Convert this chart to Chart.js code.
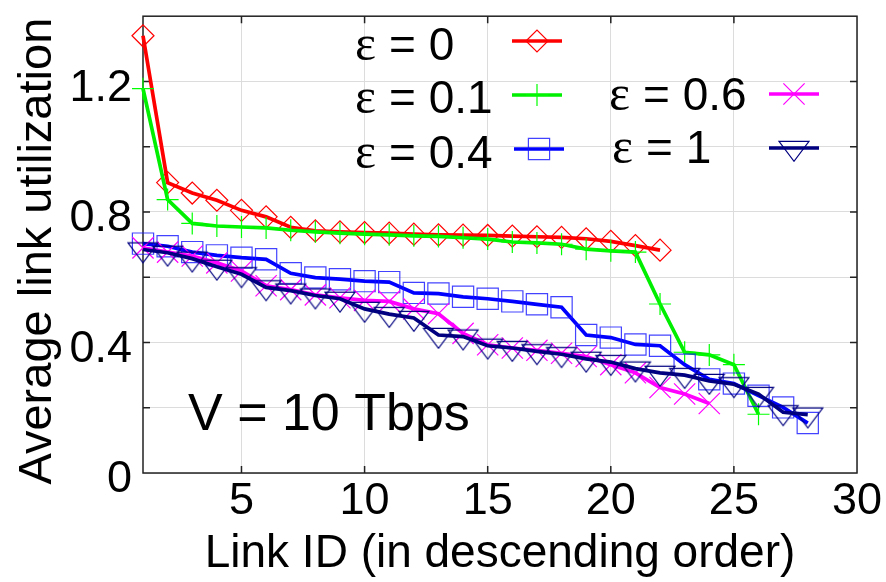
<!DOCTYPE html>
<html>
<head>
<meta charset="utf-8">
<title>Average link utilization</title>
<script src="https://cdn.jsdelivr.net/npm/chart.js"></script>
<style>
  html, body { margin: 0; padding: 0; background: #fff; }
</style>
</head>
<body>
<canvas id="linkChart" width="886" height="582"></canvas>

<script>
// Links sorted by utilization, highest first
const linkIds = [1, 2, 3, 4, 5, 6, 7, 8, 9, 10, 11, 12, 13, 14,
                 15, 16, 17, 18, 19, 20, 21, 22, 23, 24, 25, 26, 27, 28];

const xTicks = [5, 10, 15, 20, 25, 30];
const yTicks = [0, 0.2, 0.4, 0.6, 0.8, 1.0, 1.2, 1.4];
const yTickLabels = ['0', '', '0.4', '', '0.8', '', '1.2', ''];

const epsValues = ['0', '0.1', '0.4', '0.6', '1'];

// average utilization per link, one list per epsilon
const utilEps0 = [1.34, 0.89, 0.858, 0.836, 0.805, 0.785, 0.753, 0.742, 0.739, 0.737,
                  0.735, 0.732, 0.73, 0.729, 0.728, 0.726, 0.724, 0.722, 0.718, 0.71,
                  0.697, 0.683];
const utilEps01 = [1.178, 0.838, 0.765, 0.757, 0.754, 0.751, 0.744, 0.739, 0.735, 0.732,
                   0.73, 0.727, 0.725, 0.721, 0.717, 0.708, 0.705, 0.701, 0.686, 0.681,
                   0.677, 0.518, 0.37, 0.362, 0.332, 0.18];
const utilEps04 = [0.703, 0.695, 0.677, 0.667, 0.66, 0.655, 0.612, 0.599, 0.594, 0.588,
                   0.585, 0.552, 0.55, 0.54, 0.534, 0.526, 0.517, 0.508, 0.423, 0.415,
                   0.394, 0.39, 0.332, 0.287, 0.274, 0.237, 0.201, 0.153];
const utilEps06 = [0.69, 0.677, 0.665, 0.644, 0.619, 0.574, 0.562, 0.546, 0.537, 0.529,
                   0.526, 0.503, 0.488, 0.428, 0.393, 0.383, 0.376, 0.367, 0.357, 0.332,
                   0.307, 0.262, 0.242, 0.213];
const utilEps1 = [0.685, 0.675, 0.657, 0.632, 0.609, 0.569, 0.559, 0.544, 0.534, 0.503,
                  0.487, 0.475, 0.423, 0.418, 0.39, 0.383, 0.373, 0.364, 0.35, 0.34,
                  0.32, 0.307, 0.3, 0.282, 0.272, 0.242, 0.186, 0.179];

const SANS = '"Liberation Sans", Arial, sans-serif';
const SERIF = '"Liberation Serif", "Times New Roman", serif';

// flat downward triangle, centroid in the middle of the canvas
function makeTriangle(color) {
  const c = document.createElement('canvas');
  c.width = 34; c.height = 30;
  const g = c.getContext('2d');
  const w = 30, h = 20, cx = 17, cy = 15;
  g.strokeStyle = color;
  g.lineWidth = 1.2;
  g.beginPath();
  g.moveTo(cx - w / 2, cy - h / 3);
  g.lineTo(cx + w / 2, cy - h / 3);
  g.lineTo(cx, cy + 2 * h / 3);
  g.closePath();
  g.stroke();
  return c;
}

function toPoints(values) {
  return values.map((v, i) => ({ x: linkIds[i], y: v }));
}

function series(eps, values, color, markerColor, style, radius, order) {
  return {
    label: 'ε = ' + eps,
    data: toPoints(values),
    borderColor: color,
    borderWidth: 3.7,
    tension: 0,
    fill: false,
    clip: false,
    order: order,
    pointStyle: style,
    pointRadius: radius,
    pointBorderColor: markerColor,
    pointBackgroundColor: 'rgba(0,0,0,0)',
    pointBorderWidth: 1.2
  };
}

const datasets = [
  series(epsValues[0], utilEps0, '#ff0000', '#ff0000', 'rectRot', 11, 4),
  series(epsValues[1], utilEps01, '#00ee00', '#00ff00', 'cross', 11, 3),
  series(epsValues[2], utilEps04, '#0000ff', 'rgba(20,20,255,0.8)', 'rect', 15, 2),
  series(epsValues[3], utilEps06, '#ff00ff', '#ff00ff', 'crossRot', 15, 1),
  series(epsValues[4], utilEps1, '#000080', '#000080', makeTriangle('#000080'), 14, 0)
];

// box round the plot with short inward ticks on all four sides
const framePlugin = {
  id: 'frame',
  beforeDatasetsDraw(chart) {
    const { ctx, chartArea: a, scales } = chart;
    ctx.save();
    ctx.strokeStyle = '#222';
    ctx.lineWidth = 1.5;
    ctx.strokeRect(a.left, a.top, a.right - a.left, a.bottom - a.top);
    ctx.beginPath();
    yTicks.slice(1, -1).forEach(v => {
      const y = scales.y.getPixelForValue(v);
      ctx.moveTo(a.left, y); ctx.lineTo(a.left + 7, y);
      ctx.moveTo(a.right, y); ctx.lineTo(a.right - 7, y);
    });
    xTicks.slice(0, -1).forEach(v => {
      const x = scales.x.getPixelForValue(v);
      ctx.moveTo(x, a.bottom); ctx.lineTo(x, a.bottom - 7);
      ctx.moveTo(x, a.top); ctx.lineTo(x, a.top + 7);
    });
    ctx.stroke();
    ctx.restore();
  }
};

// two-column key and the capacity note inside the plot
const keyPlugin = {
  id: 'key',
  afterDraw(chart) {
    const { ctx, chartArea: a } = chart;
    const slots = [
      { ds: 0, tx: 355, ty: 60, sx: 537, sy: 41 },
      { ds: 1, tx: 355, ty: 113, sx: 537, sy: 95 },
      { ds: 2, tx: 355, ty: 168, sx: 539, sy: 149 },
      { ds: 3, tx: 609, ty: 110, sx: 794, sy: 94 },
      { ds: 4, tx: 612, ty: 163, sx: 794, sy: 148 }
    ];
    ctx.save();
    ctx.textBaseline = 'alphabetic';
    ctx.textAlign = 'left';
    slots.forEach(s => {
      const d = chart.data.datasets[s.ds];
      ctx.fillStyle = '#000';
      ctx.font = '50px ' + SERIF;
      ctx.fillText('ε', s.tx, s.ty);
      ctx.font = '46px ' + SANS;
      ctx.fillText('= ' + epsValues[s.ds], s.tx + 34, s.ty);

      ctx.strokeStyle = d.borderColor;
      ctx.lineWidth = d.borderWidth;
      ctx.beginPath();
      ctx.moveTo(s.sx - 25, s.sy);
      ctx.lineTo(s.sx + 25, s.sy);
      ctx.stroke();

      ctx.strokeStyle = d.pointBorderColor;
      ctx.fillStyle = 'rgba(0,0,0,0)';
      ctx.lineWidth = d.pointBorderWidth;
      Chart.helpers.drawPoint(ctx, {
        pointStyle: d.pointStyle,
        radius: d.pointRadius,
        rotation: 0,
        borderWidth: d.pointBorderWidth
      }, s.sx, s.sy);
    });

    ctx.fillStyle = '#000';
    ctx.font = '52px ' + SANS;
    ctx.fillText('V = 10 Tbps', a.left + 45, a.bottom - 43);
    ctx.restore();
  }
};

new Chart(document.getElementById('linkChart').getContext('2d'), {
  type: 'line',
  data: { datasets: datasets },
  options: {
    responsive: false,
    animation: false,
    devicePixelRatio: 1,
    layout: { padding: { top: 9, right: 29, bottom: 0, left: 0 } },
    plugins: {
      legend: { display: false },
      tooltip: { enabled: false }
    },
    scales: {
      x: {
        type: 'linear',
        min: 1,
        max: 30,
        afterBuildTicks: s => { s.ticks = xTicks.map(v => ({ value: v })); },
        afterFit: s => {
          s.height = 109;
          s.paddingLeft = 0;
          s.paddingRight = 0;
        },
        grid: { color: '#dcdcdc', lineWidth: 1, drawTicks: false },
        border: { display: false },
        ticks: {
          color: '#000',
          font: { family: SANS, size: 45 },
          padding: 2,
          maxRotation: 0,
          autoSkip: false
        },
        title: {
          display: true,
          text: 'Link ID (in descending order)',
          color: '#000',
          font: { family: SANS, size: 46 },
          padding: { top: 0, bottom: 0 }
        }
      },
      y: {
        type: 'linear',
        min: 0,
        max: 1.4,
        afterBuildTicks: s => { s.ticks = yTicks.map(v => ({ value: v })); },
        afterFit: s => {
          s.width = 143;
          s.paddingTop = 0;
          s.paddingBottom = 0;
        },
        grid: { color: '#dcdcdc', lineWidth: 1, drawTicks: false },
        border: { display: false },
        ticks: {
          color: '#000',
          font: { family: SANS, size: 45 },
          padding: 11,
          labelOffset: 7,
          autoSkip: false,
          callback: (v, i) => yTickLabels[i]
        },
        title: {
          display: true,
          text: 'Average link utilization ',
          color: '#000',
          font: { family: SANS, size: 47 },
          padding: { top: 10, bottom: 0 }
        }
      }
    }
  },
  plugins: [framePlugin, keyPlugin]
});
</script>
</body>
</html>
